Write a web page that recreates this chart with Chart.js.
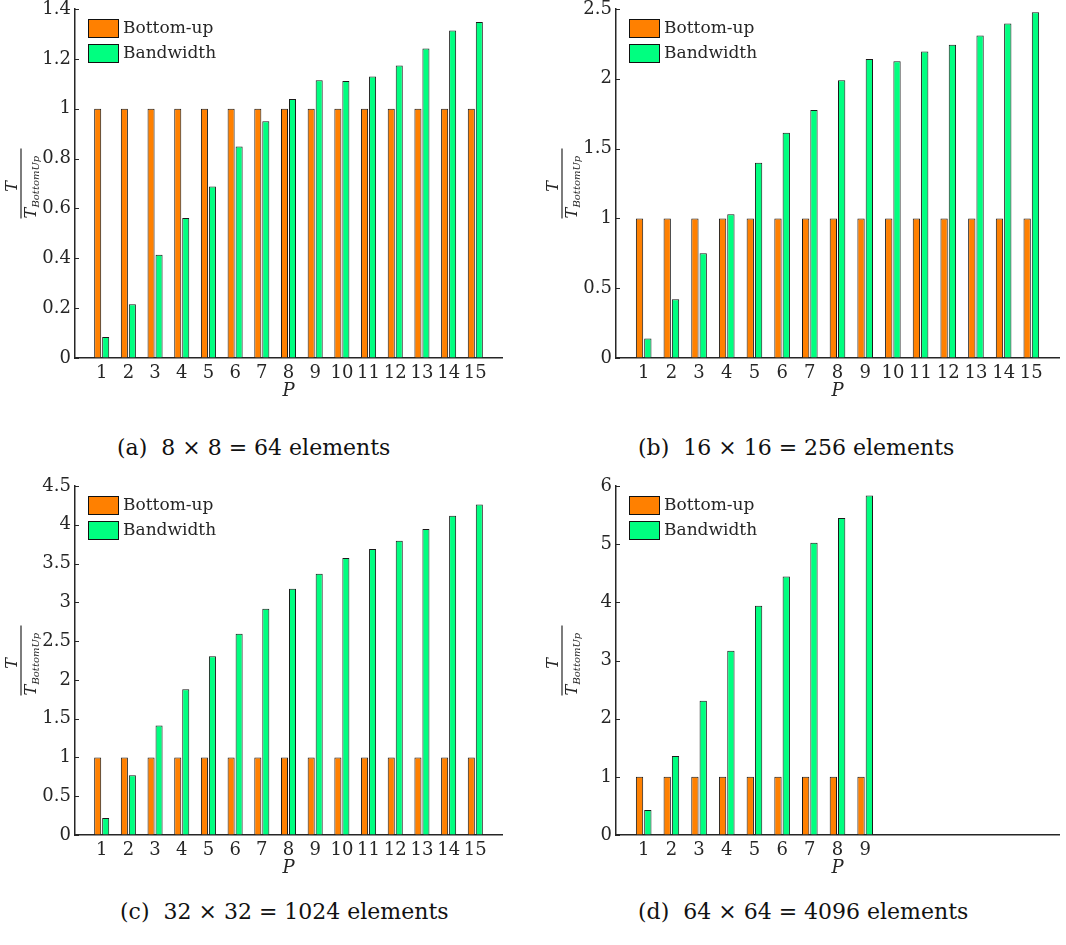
<!DOCTYPE html>
<html>
<head>
<meta charset="utf-8">
<script src="https://cdn.jsdelivr.net/npm/chart.js@4.4.0/dist/chart.umd.min.js"></script>
<style>
  body { margin: 0; background: #fff; width: 1066px; height: 945px; position: relative; overflow: hidden; }
  .panel { position: absolute; }
  .cap { position: absolute; font-family: 'DejaVu Serif', serif; font-size: 22px; line-height: 1; color: #111; white-space: nowrap; }
</style>
</head>
<body>
<div class="panel" style="left:0;top:-11px"><canvas id="chartA" width="533" height="420"></canvas></div>
<div class="panel" style="left:541px;top:-11px"><canvas id="chartB" width="525" height="420"></canvas></div>
<div class="panel" style="left:0;top:466px"><canvas id="chartC" width="533" height="420"></canvas></div>
<div class="panel" style="left:541px;top:466px"><canvas id="chartD" width="525" height="420"></canvas></div>

<div class="cap" style="left:117px;top:437px">(a)&nbsp; 8 × 8 = 64 elements</div>
<div class="cap" style="left:638px;top:437px">(b)&nbsp; 16 × 16 = 256 elements</div>
<div class="cap" style="left:120px;top:901px">(c)&nbsp; 32 × 32 = 1024 elements</div>
<div class="cap" style="left:638px;top:901px">(d)&nbsp; 64 × 64 = 4096 elements</div>

<script>
// number of processors P
const procs15 = [1, 2, 3, 4, 5, 6, 7, 8, 9, 10, 11, 12, 13, 14, 15];
const procs9 = [1, 2, 3, 4, 5, 6, 7, 8, 9];

// time relative to the bottom-up run
const bottomUp8 = [1, 1, 1, 1, 1, 1, 1, 1, 1, 1, 1, 1, 1, 1, 1];
const bandwidth8 = [0.084, 0.216, 0.414, 0.562, 0.688, 0.848, 0.95, 1.039, 1.114, 1.111, 1.129, 1.173, 1.242, 1.314, 1.348];

const bottomUp16 = [1, 1, 1, 1, 1, 1, 1, 1, 1, 1, 1, 1, 1, 1, 1];
const bandwidth16 = [0.139, 0.421, 0.75, 1.03, 1.398, 1.613, 1.776, 1.989, 2.141, 2.125, 2.196, 2.244, 2.311, 2.397, 2.476];

const bottomUp32 = [1, 1, 1, 1, 1, 1, 1, 1, 1, 1, 1, 1, 1, 1, 1];
const bandwidth32 = [0.219, 0.77, 1.411, 1.88, 2.306, 2.595, 2.917, 3.176, 3.369, 3.571, 3.688, 3.795, 3.946, 4.118, 4.26];

const bottomUp64 = [1, 1, 1, 1, 1, 1, 1, 1, 1];
const bandwidth64 = [0.43, 1.36, 2.306, 3.167, 3.941, 4.446, 5.026, 5.45, 5.835];

const ink = '#262626';
const serif = "'DejaVu Serif', serif";

// T / T_BottomUp written as a rotated fraction left of the y axis
const fracLabel = {
  id: 'fracLabel',
  afterDraw(chart) {
    const { ctx, chartArea } = chart;
    ctx.save();
    ctx.translate(chartArea.left - 54, (chartArea.top + chartArea.bottom) / 2);
    ctx.rotate(-Math.PI / 2);
    ctx.fillStyle = ink;
    ctx.strokeStyle = ink;
    ctx.lineWidth = 1.2;
    ctx.beginPath();
    ctx.moveTo(-35, 0);
    ctx.lineTo(35, 0);
    ctx.stroke();
    ctx.font = 'italic 16px ' + serif;
    ctx.textBaseline = 'alphabetic';
    ctx.textAlign = 'center';
    ctx.fillText('T', -3, -4);
    ctx.textAlign = 'left';
    ctx.fillText('T', -35, 15);
    ctx.font = 'italic 10px ' + serif;
    ctx.fillText('BottomUp', -24, 18);
    ctx.restore();
  }
};

// short inward ticks on the y axis
const innerTicks = {
  id: 'innerTicks',
  afterDraw(chart) {
    const { ctx } = chart;
    const y = chart.scales.y;
    ctx.save();
    ctx.strokeStyle = ink;
    ctx.lineWidth = 1;
    y.ticks.forEach(t => {
      const py = Math.round(y.getPixelForValue(t.value)) + 0.5;
      ctx.beginPath();
      ctx.moveTo(y.right, py);
      ctx.lineTo(y.right + 4, py);
      ctx.stroke();
    });
    ctx.restore();
  }
};

// legend boxes in the upper-left corner of the plot
const boxLegend = {
  id: 'boxLegend',
  afterDraw(chart) {
    const { ctx, chartArea } = chart;
    ctx.save();
    chart.data.datasets.forEach((ds, i) => {
      const bx = chartArea.left + 13;
      const by = chartArea.top + 10 + i * 25;
      ctx.fillStyle = ds.backgroundColor;
      ctx.fillRect(bx, by, 31, 19);
      ctx.strokeStyle = '#111';
      ctx.lineWidth = 1;
      ctx.strokeRect(bx + 0.5, by + 0.5, 30, 18);
      ctx.fillStyle = ink;
      ctx.font = '17px ' + serif;
      ctx.textAlign = 'left';
      ctx.textBaseline = 'middle';
      ctx.fillText(ds.label, bx + 35, by + 10);
    });
    ctx.restore();
  }
};

const plainNumber = v => String(Number(v.toFixed(3)));

function makeChart(id, procs, bottomUp, bandwidth, yMax, yStep, padRight) {
  const lastP = procs[procs.length - 1];
  const pts = vals => procs.map((p, i) => ({ x: p, y: vals[i] }));
  return new Chart(document.getElementById(id), {
    type: 'bar',
    data: {
      datasets: [
        { label: 'Bottom-up', data: pts(bottomUp), backgroundColor: '#ff8000', borderColor: '#1a1a1a', borderWidth: 1 },
        { label: 'Bandwidth', data: pts(bandwidth), backgroundColor: '#00ff80', borderColor: '#1a1a1a', borderWidth: 1 }
      ]
    },
    options: {
      responsive: false,
      animation: false,
      categoryPercentage: 0.6,
      barPercentage: 0.88,
      layout: { padding: { left: 0, top: 20, right: padRight, bottom: 0 } },
      plugins: { legend: { display: false }, tooltip: { enabled: false } },
      scales: {
        x: {
          type: 'linear',
          min: 0,
          max: 16,
          offset: false,
          grid: { display: true, offset: false, drawOnChartArea: false, drawTicks: false },
          border: { color: ink, width: 1.5 },
          ticks: {
            stepSize: 1,
            autoSkip: false,
            maxRotation: 0,
            padding: 5,
            color: ink,
            font: { family: serif, size: 18 },
            callback: v => (v >= 1 && v <= lastP) ? String(v) : ''
          },
          title: {
            display: true,
            text: 'P',
            color: ink,
            font: { family: serif, size: 18, style: 'italic' },
            padding: { top: 0, bottom: 7 }
          },
          afterFit: s => { s.height = 51; }
        },
        y: {
          min: 0,
          max: yMax,
          grid: { display: true, drawOnChartArea: false, drawTicks: false },
          border: { color: ink, width: 1.5 },
          ticks: {
            stepSize: yStep,
            padding: 4,
            color: ink,
            font: { family: serif, size: 18 },
            callback: plainNumber
          },
          afterFit: s => { s.width = 75; }
        }
      }
    },
    plugins: [fracLabel, innerTicks, boxLegend]
  });
}

makeChart('chartA', procs15, bottomUp8, bandwidth8, 1.4, 0.2, 31);
makeChart('chartB', procs15, bottomUp16, bandwidth16, 2.5, 0.5, 7);
makeChart('chartC', procs15, bottomUp32, bandwidth32, 4.5, 0.5, 31);
makeChart('chartD', procs9, bottomUp64, bandwidth64, 6, 1, 7);
</script>
</body>
</html>
